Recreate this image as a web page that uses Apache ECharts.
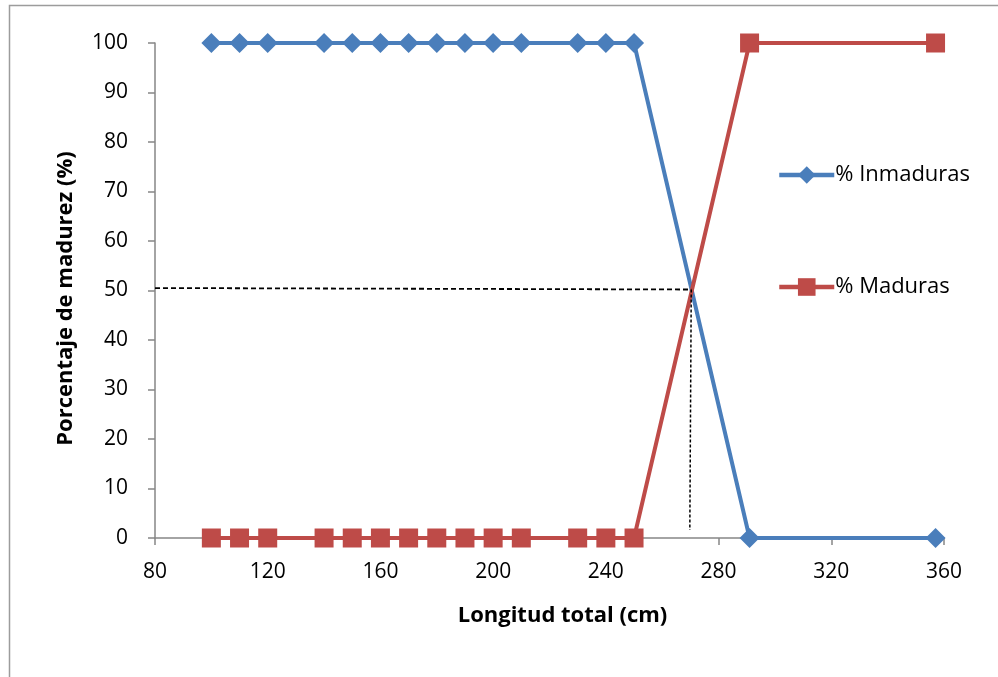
<!DOCTYPE html>
<html>
<head>
<meta charset="utf-8">
<script src="https://cdn.jsdelivr.net/npm/echarts@6/dist/echarts.min.js"></script>
<style>
  html, body { margin: 0; padding: 0; background: #ffffff; }
  #chart { width: 998px; height: 677px; }
</style>
</head>
<body>
<div id="chart"></div>
<script>
// Longitud total (cm) de cada clase
const longitudes = [100, 110, 120, 140, 150, 160, 170, 180, 190, 200, 210, 230, 240, 250, 291, 357];
// Porcentaje de hembras inmaduras por clase
const inmaduras = [100, 100, 100, 100, 100, 100, 100, 100, 100, 100, 100, 100, 100, 100, 0, 0];
// Porcentaje de hembras maduras por clase
const maduras = [0, 0, 0, 0, 0, 0, 0, 0, 0, 0, 0, 0, 0, 0, 100, 100];
// Guías de la talla de madurez al 50 %
const guiaHorizontal = [[80, 50.5], [270.3, 50.2]];
const guiaVertical = [[270.3, 50.2], [269.8, 1.6]];

const xTicks = { min: 80, max: 360, interval: 40 };
const yTicks = { min: 0, max: 100, interval: 10 };

const font = '"Open Sans", "Liberation Sans", sans-serif';
const axisGray = '#868686';

const chart = echarts.init(document.getElementById('chart'), null, { renderer: 'canvas' });

const pair = (xs, ys) => xs.map((x, i) => [x, ys[i]]);

chart.setOption({
  animation: false,
  backgroundColor: '#ffffff',
  graphic: [{
    type: 'rect',
    shape: { x: 9.5, y: 5.5, width: 1000, height: 700 },
    style: { fill: 'none', stroke: '#9c9c9c', lineWidth: 1.5 },
    silent: true
  }],
  grid: { left: 155, right: 54, top: 43, bottom: 139 },
  legend: {
    orient: 'vertical',
    left: 777,
    top: 164,
    padding: 0,
    itemWidth: 55,
    itemHeight: 22,
    itemGap: 90,
    data: ['% Inmaduras', '% Maduras'],
    lineStyle: { width: 4.5 },
    textStyle: { fontFamily: font, fontSize: 22, color: '#000000', padding: [0, 0, 0, -4] }
  },
  xAxis: {
    type: 'value',
    min: xTicks.min, max: xTicks.max, interval: xTicks.interval,
    name: 'Longitud total (cm)',
    nameLocation: 'middle',
    nameGap: 67,
    nameTextStyle: { fontFamily: font, fontSize: 22, fontWeight: 'bold', color: '#000000', padding: [0, 0, 0, 26] },
    axisLine: { lineStyle: { color: axisGray, width: 1.5 } },
    axisTick: { inside: false, length: 7, lineStyle: { color: axisGray, width: 1.5 } },
    axisLabel: { fontFamily: font, fontSize: 21, color: '#000000', margin: 24 },
    splitLine: { show: false }
  },
  yAxis: {
    type: 'value',
    min: yTicks.min, max: yTicks.max, interval: yTicks.interval,
    name: 'Porcentaje de madurez (%)',
    nameLocation: 'middle',
    nameGap: 78,
    nameRotate: 90,
    nameTextStyle: { fontFamily: font, fontSize: 22, fontWeight: 'bold', color: '#000000', padding: [0, 16, 0, 0] },
    axisLine: { show: true, lineStyle: { color: axisGray, width: 1.5 } },
    axisTick: { show: true, inside: false, length: 7, lineStyle: { color: axisGray, width: 1.5 } },
    axisLabel: { fontFamily: font, fontSize: 21, color: '#000000', margin: 27 },
    splitLine: { show: false }
  },
  series: [
    {
      name: '% Inmaduras',
      type: 'line',
      data: pair(longitudes, inmaduras),
      symbol: 'diamond',
      symbolSize: 20,
      showAllSymbol: true,
      lineStyle: { color: '#4A7EBB', width: 4 },
      itemStyle: { color: '#4A7EBB', borderWidth: 0 },
      z: 3
    },
    {
      name: '% Maduras',
      type: 'line',
      data: pair(longitudes, maduras),
      symbol: 'rect',
      symbolSize: 19,
      showAllSymbol: true,
      lineStyle: { color: '#BE4B48', width: 4 },
      itemStyle: { color: '#BE4B48', borderWidth: 0 },
      z: 4
    },
    {
      name: 'guia-h',
      type: 'line',
      data: guiaHorizontal,
      symbol: 'none',
      silent: true,
      lineStyle: { color: '#000000', width: 1.8, type: [5, 3] },
      z: 5
    },
    {
      name: 'guia-v',
      type: 'line',
      data: guiaVertical,
      symbol: 'none',
      silent: true,
      lineStyle: { color: '#000000', width: 1.5, type: [3, 2] },
      z: 5
    }
  ]
});
</script>
</body>
</html>
